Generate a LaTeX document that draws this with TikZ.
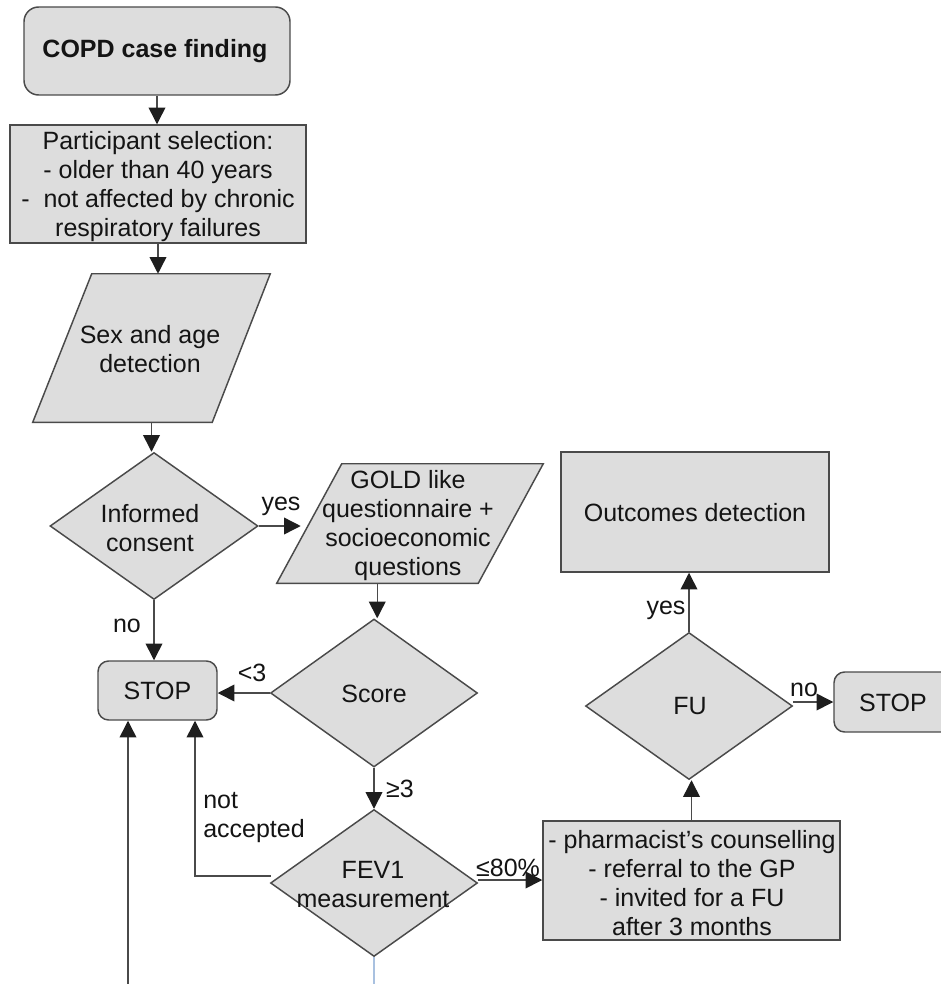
\documentclass[tikz,border=0pt]{standalone}
\usepackage{fontspec}
\setmainfont{Liberation Sans}
\usetikzlibrary{shapes.geometric,arrows.meta,calc}
\definecolor{boxfill}{HTML}{DDDDDD}
\definecolor{edge}{HTML}{4A4A4A}
\definecolor{tipc}{HTML}{1E1E1E}
\definecolor{bluel}{HTML}{A9C1E0}
\tikzset{
 every node/.style={font=\fontsize{18.75}{21.75}\selectfont, text=black!92},
 boxbase/.style={draw=edge, fill=boxfill, line width=1.1pt, inner sep=0pt},
 rbox/.style={boxbase, rectangle},
 rrbox/.style={boxbase, rectangle, rounded corners=8pt},
 dia/.style={boxbase, diamond},
 frame/.style={rectangle, inner sep=0pt, draw=none},
 lbl/.style={align=center, inner sep=0pt},
 conn/.style={draw=edge, line width=1.1pt, -{Triangle[length=12.5pt,width=12.5pt,fill=tipc,color=tipc]}},
}
\begin{document}
\begin{tikzpicture}[x=0.75pt,y=-0.75pt]
\path[use as bounding box, clip] (0,0) rectangle (941,984);

% nodes
\node[rrbox, rounded corners=11pt, minimum width=266*0.75pt, minimum height=88*0.75pt] (copd) at (157,51) {};
\node[lbl, font={\fontsize{18.75}{21.75}\selectfont\bfseries}] at (155,51) {COPD case finding};

\node[rbox, minimum width=296*0.75pt, minimum height=118*0.75pt] (sel) at (158,184) {};
\node[lbl] at (158,187) {Participant selection:\\- older than 40 years\\-\ \ not affected by chronic\\respiratory failures};

% parallelogram: Sex and age
\node[frame, minimum width=237*0.75pt, minimum height=148*0.75pt] (sex) at (151.5,348) {};
\draw[boxbase] (sex.south west) -- ($(sex.north west)+(59,0)$) -- (sex.north east) -- ($(sex.south east)+(-58,0)$) -- cycle;
\node[lbl] at (150,349) {Sex and age\\detection};

\node[dia, minimum width=208*0.75pt, minimum height=147*0.75pt] (ic) at (154,526) {};
\node[lbl] at (150,528) {Informed\\consent};

% parallelogram: GOLD
\node[frame, minimum width=266*0.75pt, minimum height=119*0.75pt] (gold) at (410,523.5) {};
\draw[boxbase] (gold.south west) -- ($(gold.north west)+(65,0)$) -- (gold.north east) -- ($(gold.south east)+(-65,0)$) -- cycle;
\node[lbl] at (408,526) {GOLD like\\questionnaire +\\socioeconomic\\questions};
\coordinate (goldbot) at ($(gold.south west)+(100.5,0)$);
\coordinate (goldin) at ($(ic.east)+(42,0)$);

\node[dia, minimum width=207*0.75pt, minimum height=148*0.75pt] (score) at (374,693) {};
\node[lbl] at (374,694) {Score};

\node[rrbox, minimum width=119*0.75pt, minimum height=59*0.75pt] (stop1) at (157.5,690.5) {};
\node[lbl] at (157.5,691) {STOP};

\node[dia, minimum width=207*0.75pt, minimum height=147*0.75pt] (fev) at (374,883) {};
\node[lbl] at (373,885) {FEV1\\measurement};

\node[rbox, minimum width=297*0.75pt, minimum height=119*0.75pt] (cou) at (691.5,880.5) {};
\node[lbl] at (692,883) {- pharmacist’s counselling\\- referral to the GP\\- invited for a FU\\after 3 months};

\node[dia, minimum width=207*0.75pt, minimum height=147*0.75pt] (fu) at (689,706) {};
\node[lbl] at (690,706) {FU};

\node[rbox, minimum width=268*0.75pt, minimum height=120*0.75pt] (out) at (695,512) {};
\node[lbl] at (695,513) {Outcomes detection};

\node[rrbox, minimum width=140*0.75pt, minimum height=60*0.75pt] (stop2) at (904,702) {};
\node[lbl] at (893,703) {STOP};

% helper coordinates
\coordinate (b1) at (128,995);
\coordinate (b2) at (373,995);
\coordinate (fevl) at ($(fev.west)+(1,-7)$);
\coordinate (s1r) at ($(stop1.south)+(37.5,0)$);
\coordinate (fevr) at ($(fev.east)+(0,-3)$);
\coordinate (fur) at ($(fu.east)+(0,-4)$);

% connectors
\draw[conn] (copd.south) -- (copd.south |- sel.north);
\draw[conn] (sel.south) -- (sel.south |- sex.north);
\draw[conn] (sex.south) -- (sex.south |- ic.north);
\draw[conn] (ic.east) -- (goldin);
\draw[conn] (goldbot) -- (goldbot |- score.north);
\draw[conn] (score.west) -- (score.west -| stop1.east);
\draw[conn] (ic.south) -- (ic.south |- stop1.north);
\draw[conn] (score.south) -- (fev.north);
\draw[conn] (fevl) -| (s1r);
\draw[conn] (b1) -- (b1 |- stop1.south);
\draw[draw=bluel, line width=1.5pt] (fev.south) -- (fev.south |- b2);
\draw[conn] (fevr) -- (fevr -| cou.west);
\draw[conn] (cou.north) -- (cou.north |- fu.south);
\draw[conn] (fu.north) -- (fu.north |- out.south);
\draw[conn] (fur) -- (fur -| stop2.west);

% labels
\node[lbl] at (281,506) {yes};
\node[lbl] at (127,626) {no};
\node[lbl] at (252,673) {<3};
\node[lbl] at (400,789) {≥3};
\node[lbl, align=left, anchor=west] at (203,818) {not\\accepted};
\node[lbl] at (508,868) {≤80\%};
\node[lbl] at (666,610) {yes};
\node[lbl] at (804,690) {no};
\end{tikzpicture}
\end{document}
